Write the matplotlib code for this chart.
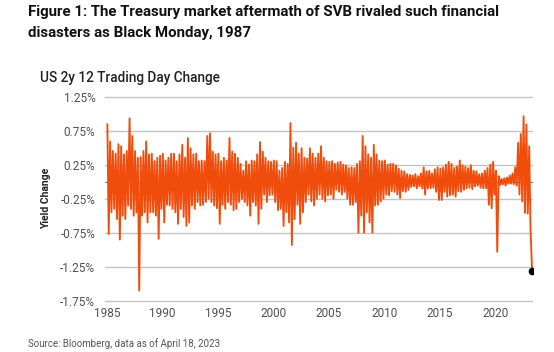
import matplotlib
matplotlib.use('Agg')
import matplotlib.pyplot as plt
from matplotlib import font_manager
import pandas as pd

# quarterly extremes of the 12 trading day change in the 2y yield (%)
# each row = one year, Q1..Q4
hi = [
    0.84, 0.59, 0.45, 0.41,   # 1985
    0.55, 0.52, 0.40, 0.45,   # 1986
    0.93, 0.67, 0.45, 0.35,   # 1987
    0.36, 0.45, 0.59, 0.40,   # 1988
    0.41, 0.30, 0.35, 0.38,   # 1989
    0.41, 0.31, 0.35, 0.41,   # 1990
    0.41, 0.30, 0.40, 0.54,   # 1991
    0.35, 0.64, 0.49, 0.40,   # 1992
    0.41, 0.30, 0.31, 0.30,   # 1993
    0.67, 0.71, 0.44, 0.40,   # 1994
    0.41, 0.30, 0.35, 0.31,   # 1995
    0.64, 0.44, 0.41, 0.35,   # 1996
    0.26, 0.16, 0.30, 0.25,   # 1997
    0.31, 0.30, 0.40, 0.58,   # 1998
    0.44, 0.35, 0.30, 0.29,   # 1999
    0.31, 0.30, 0.16, 0.20,   # 2000
    0.29, 0.26, 0.86, 0.50,   # 2001
    0.57, 0.41, 0.49, 0.35,   # 2002
    0.34, 0.49, 0.41, 0.35,   # 2003
    0.41, 0.52, 0.35, 0.30,   # 2004
    0.29, 0.30, 0.26, 0.28,   # 2005
    0.29, 0.25, 0.24, 0.20,   # 2006
    0.21, 0.20, 0.26, 0.30,   # 2007
    0.67, 0.52, 0.40, 0.35,   # 2008
    0.54, 0.40, 0.31, 0.30,   # 2009
    0.31, 0.25, 0.26, 0.26,   # 2010
    0.24, 0.19, 0.16, 0.15,   # 2011
    0.11, 0.10, 0.09, 0.11,   # 2012
    0.08, 0.12, 0.21, 0.15,   # 2013
    0.16, 0.12, 0.18, 0.21,   # 2014
    0.19, 0.21, 0.25, 0.29,   # 2015
    0.26, 0.20, 0.22, 0.31,   # 2016
    0.24, 0.22, 0.20, 0.24,   # 2017
    0.16, 0.15, 0.11, 0.12,   # 2018
    0.16, 0.20, 0.25, 0.29,   # 2019
    0.16, 0.08, 0.04, 0.05,   # 2020
    0.06, 0.09, 0.12, 0.21,   # 2021
    0.57, 0.70, 0.96, 0.84,   # 2022
    0.52,                     # 2023
]
lo = [
    -0.77, -0.45, -0.40, -0.55,   # 1985
    -0.85, -0.50, -0.55, -0.35,   # 1986
    -0.40, -0.50, -0.45, -1.60,   # 1987
    -0.50, -0.45, -0.60, -0.45,   # 1988
    -0.45, -0.50, -0.84, -0.40,   # 1989
    -0.60, -0.34, -0.35, -0.40,   # 1990
    -0.45, -0.62, -0.40, -0.52,   # 1991
    -0.65, -0.60, -0.35, -0.40,   # 1992
    -0.30, -0.35, -0.34, -0.30,   # 1993
    -0.25, -0.30, -0.35, -0.39,   # 1994
    -0.62, -0.34, -0.40, -0.30,   # 1995
    -0.34, -0.42, -0.40, -0.30,   # 1996
    -0.25, -0.30, -0.35, -0.50,   # 1997
    -0.30, -0.35, -0.62, -0.40,   # 1998
    -0.19, -0.30, -0.20, -0.19,   # 1999
    -0.30, -0.42, -0.40, -0.65,   # 2000
    -0.45, -0.60, -0.93, -0.55,   # 2001
    -0.34, -0.62, -0.45, -0.30,   # 2002
    -0.19, -0.29, -0.35, -0.25,   # 2003
    -0.19, -0.25, -0.29, -0.20,   # 2004
    -0.19, -0.25, -0.12, -0.15,   # 2005
    -0.19, -0.15, -0.25, -0.34,   # 2006
    -0.34, -0.30, -0.75, -0.50,   # 2007
    -0.75, -0.45, -0.60, -0.75,   # 2008
    -0.35, -0.34, -0.29, -0.25,   # 2009
    -0.19, -0.20, -0.14, -0.15,   # 2010
    -0.19, -0.24, -0.14, -0.15,   # 2011
    -0.12, -0.08, -0.07, -0.10,   # 2012
    -0.07, -0.10, -0.19, -0.10,   # 2013
    -0.10, -0.09, -0.15, -0.27,   # 2014
    -0.27, -0.15, -0.22, -0.20,   # 2015
    -0.19, -0.22, -0.14, -0.15,   # 2016
    -0.12, -0.10, -0.09, -0.11,   # 2017
    -0.07, -0.06, -0.09, -0.10,   # 2018
    -0.10, -0.34, -0.39, -0.19,   # 2019
    -1.03, -0.05, -0.04, -0.06,   # 2020
    -0.03, -0.03, -0.04, -0.06,   # 2021
    -0.19, -0.29, -0.46, -0.47,   # 2022
    -0.72,                        # 2023
]
last_date = '2023-04-18'
last_value = -1.31

yticks = [1.25, 0.75, 0.25, -0.25, -0.75, -1.25, -1.75]
xtick_years = [1985, 1990, 1995, 2000, 2005, 2010, 2015, 2020]

title = ('Figure 1: The Treasury market aftermath of SVB rivaled such financial\n'
         'disasters as Black Monday, 1987')
subtitle = 'US 2y 12 Trading Day Change'
source = 'Source: Bloomberg, data as of April 18, 2023'

installed = {f.name for f in font_manager.fontManager.ttflist}
head_font = 'Liberation Sans Narrow' if 'Liberation Sans Narrow' in installed else 'Roboto'
plt.rcParams['font.family'] = ['Roboto', 'DejaVu Sans']

# build the line: high then low inside each quarter
qstart = pd.date_range('1985-01-01', periods=len(hi), freq='QS')
dates = []
vals = []
for d, h, l in zip(qstart, hi, lo):
    dates.append(d + pd.Timedelta(days=12))
    vals.append(h)
    dates.append(d + pd.Timedelta(days=57))
    vals.append(l)
dates.append(pd.Timestamp(last_date))
vals.append(last_value)

W, H = 554, 352
fig = plt.figure(figsize=(W / 100, H / 100), dpi=100)
ax = fig.add_axes([105 / W, 1 - 304.2 / H, 428 / W, (304.2 - 93.1) / H])

orange = '#f04c0c'
ax.axhline(0, color='#333333', lw=0.5, zorder=1)
ax.plot(dates, vals, color=orange, lw=1.35, zorder=2)
ax.plot([pd.Timestamp(last_date)], [last_value], 'o', color='black', ms=4.5, zorder=3)

ax.set_ylim(-1.80, 1.30)
ax.set_xlim(pd.Timestamp('1984-10-27'), pd.Timestamp('2023-05-18'))
ax.set_yticks(yticks)
ax.set_yticklabels([f'{v:.2f}%' for v in yticks])
ax.set_xticks([pd.Timestamp(f'{y}-01-01') for y in xtick_years])
ax.set_xticklabels([str(y) for y in xtick_years])
ax.grid(axis='y', color='#c4c4c4', lw=1.0, zorder=0)
ax.set_axisbelow(True)
for s in ax.spines.values():
    s.set_visible(False)
ax.tick_params(length=0, labelsize=8.5, colors='#505050')
ax.tick_params(axis='y', pad=7)
ax.tick_params(axis='x', pad=2)

ax.set_ylabel('Yield Change', fontsize=7.5, fontweight='bold', color='#222222', labelpad=7)

fig.text(28 / W, 1 - 5 / H, title, fontsize=10.8, fontweight='bold', family=head_font,
         va='top', ha='left', color='#111111', linespacing=1.6)
fig.text(40 / W, 1 - 78 / H, subtitle, fontsize=9.8, fontweight='medium',
         va='center', ha='left', color='#222222')
fig.text(28 / W, 1 - 344 / H, source, fontsize=7, va='center', ha='left', color='#555555')

fig.savefig('out.png', dpi=100)
